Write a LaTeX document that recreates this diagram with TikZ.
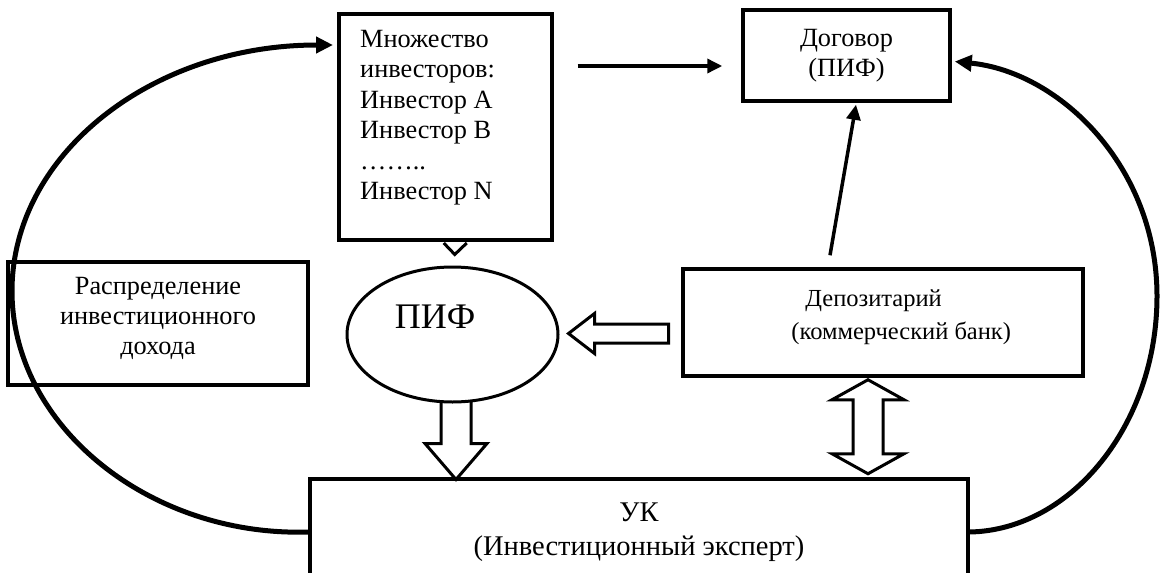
\documentclass[tikz,border=0pt]{standalone}
\usepackage{fontspec}
\setmainfont{Liberation Serif}
\usetikzlibrary{arrows.meta,calc,shapes.geometric,backgrounds}

\begin{document}
\begin{tikzpicture}[x=1pt,y=-1pt,
  txt/.style={font=\fontsize{26.3pt}{30.4pt}\selectfont},
  box/.style={draw,rectangle,line width=3.5pt,inner sep=0pt,txt},
  loop/.style={line width=5pt,-{Triangle[length=17pt,width=16pt]}},
  thinarrow/.style={line width=3.5pt,-{Triangle[length=15pt,width=14pt]}},
  hollow/.style={draw,fill=white,line width=3pt,line join=miter},
]
\clip (0,0) rectangle (1160,573);

% boxes
\node[box,anchor=north west,minimum width=213pt,minimum height=226pt]
  (inv) at (337,12) {};
\node[txt,anchor=north west,inner sep=0pt,align=left] (invtext) at (360,30)
  {Множество\\инвесторов:\\Инвестор A\\Инвестор B\\……..\\Инвестор N};
\node[box,minimum width=207pt,minimum height=91pt,align=center]
  (dog) at (846.5,55.5) {Договор\\(ПИФ)};
\node[box,minimum width=300pt,minimum height=123pt] (dist) at (158,323.5) {};
\node[txt,align=center,inner sep=0pt] (disttext) at ($(dist.center)+(0,-5)$)
  {Распределение\\инвестиционного\\дохода};
\node[box,minimum width=400pt,minimum height=107pt] (dep) at (883,322.5) {};
\node[font=\fontsize{24.5pt}{33pt}\selectfont,align=left,inner sep=0pt,anchor=west]
  (deptext) at ($(dep.west)+(110,-5)$)
  {\hspace*{14pt}Депозитарий\\(коммерческий банк)};
\node[box,minimum width=658pt,minimum height=106pt,align=center,
      font=\fontsize{28.5pt}{34pt}\selectfont]
  (uk) at (639,532) {УК\\(Инвестиционный эксперт)};
\node[ellipse,draw,fill=white,line width=3pt,minimum width=211pt,minimum height=135pt]
  (pif) at (452.5,334.5) {};
\node[font=\fontsize{36pt}{40pt}\selectfont] (piflabel)
  at ($(pif.center)+(-17.5,-17.5)$) {ПИФ};

% connectors
\begin{scope}[on background layer]
  % investors -> contract
  \draw[thinarrow] ($(inv.north east)+(24,54)$) -- ($(dog.west)+(-19,10.5)$);
  % depositary -> contract
  \draw[thinarrow] ($(dep.north)+(-53,-12)$) -- ($(dog.south)+(9.5,2)$);
  % income loop back to investors
  \coordinate (invin) at ($(inv.north west)+(-4,33)$);
  \draw[loop] (uk.west) .. controls (151,537) and (12,427) .. (12,291)
              .. controls (12,155) and (151,45) .. (invin);
  % management company -> contract
  \coordinate (dogin) at ($(dog.east)+(3,6)$);
  \draw[loop] (uk.east) .. controls (1071,530) and (1157,425) .. (1157,296)
              .. controls (1157,167) and (1060,72) .. (dogin);
  % depositary => fund
  \coordinate (lt) at ($(pif.east)+(9,-1)$);
  \draw[hollow] (lt) -- ++(26,-20) -- ++(0,10.5) -- ++(74,0) -- ++(0,19)
                -- ++(-74,0) -- ++(0,10.5) -- cycle;
  % fund => management company
  \coordinate (da) at ($(pif.south)+(3.5,0)$);
  \draw[hollow] ($(da)+(-15,-6)$) -- ($(da)+(15,-6)$) -- ($(da)+(15,40)$)
                -- ($(da)+(31,40)$) -- ($(da)+(0,76)$) -- ($(da)+(-31,40)$)
                -- ($(da)+(-15,40)$) -- cycle;
  % depositary <=> management company
  \coordinate (dd) at ($(dep.south)+(-15,2)$);
  \draw[hollow] (dd) -- ++(36,20) -- ++(-21,0) -- ++(0,54) -- ++(21,0)
                -- ++(-36,20) -- ++(-36,-20) -- ++(21,0) -- ++(0,-54)
                -- ++(-21,0) -- cycle;
\end{scope}
% arrowhead below the investors box
\draw[line width=3pt] ($(inv.south)+(-1.5,1.5)$) -- ($(inv.south)+(9.5,13)$)
  -- ($(inv.south)+(21.5,1.5)$);
\end{tikzpicture}
\end{document}
